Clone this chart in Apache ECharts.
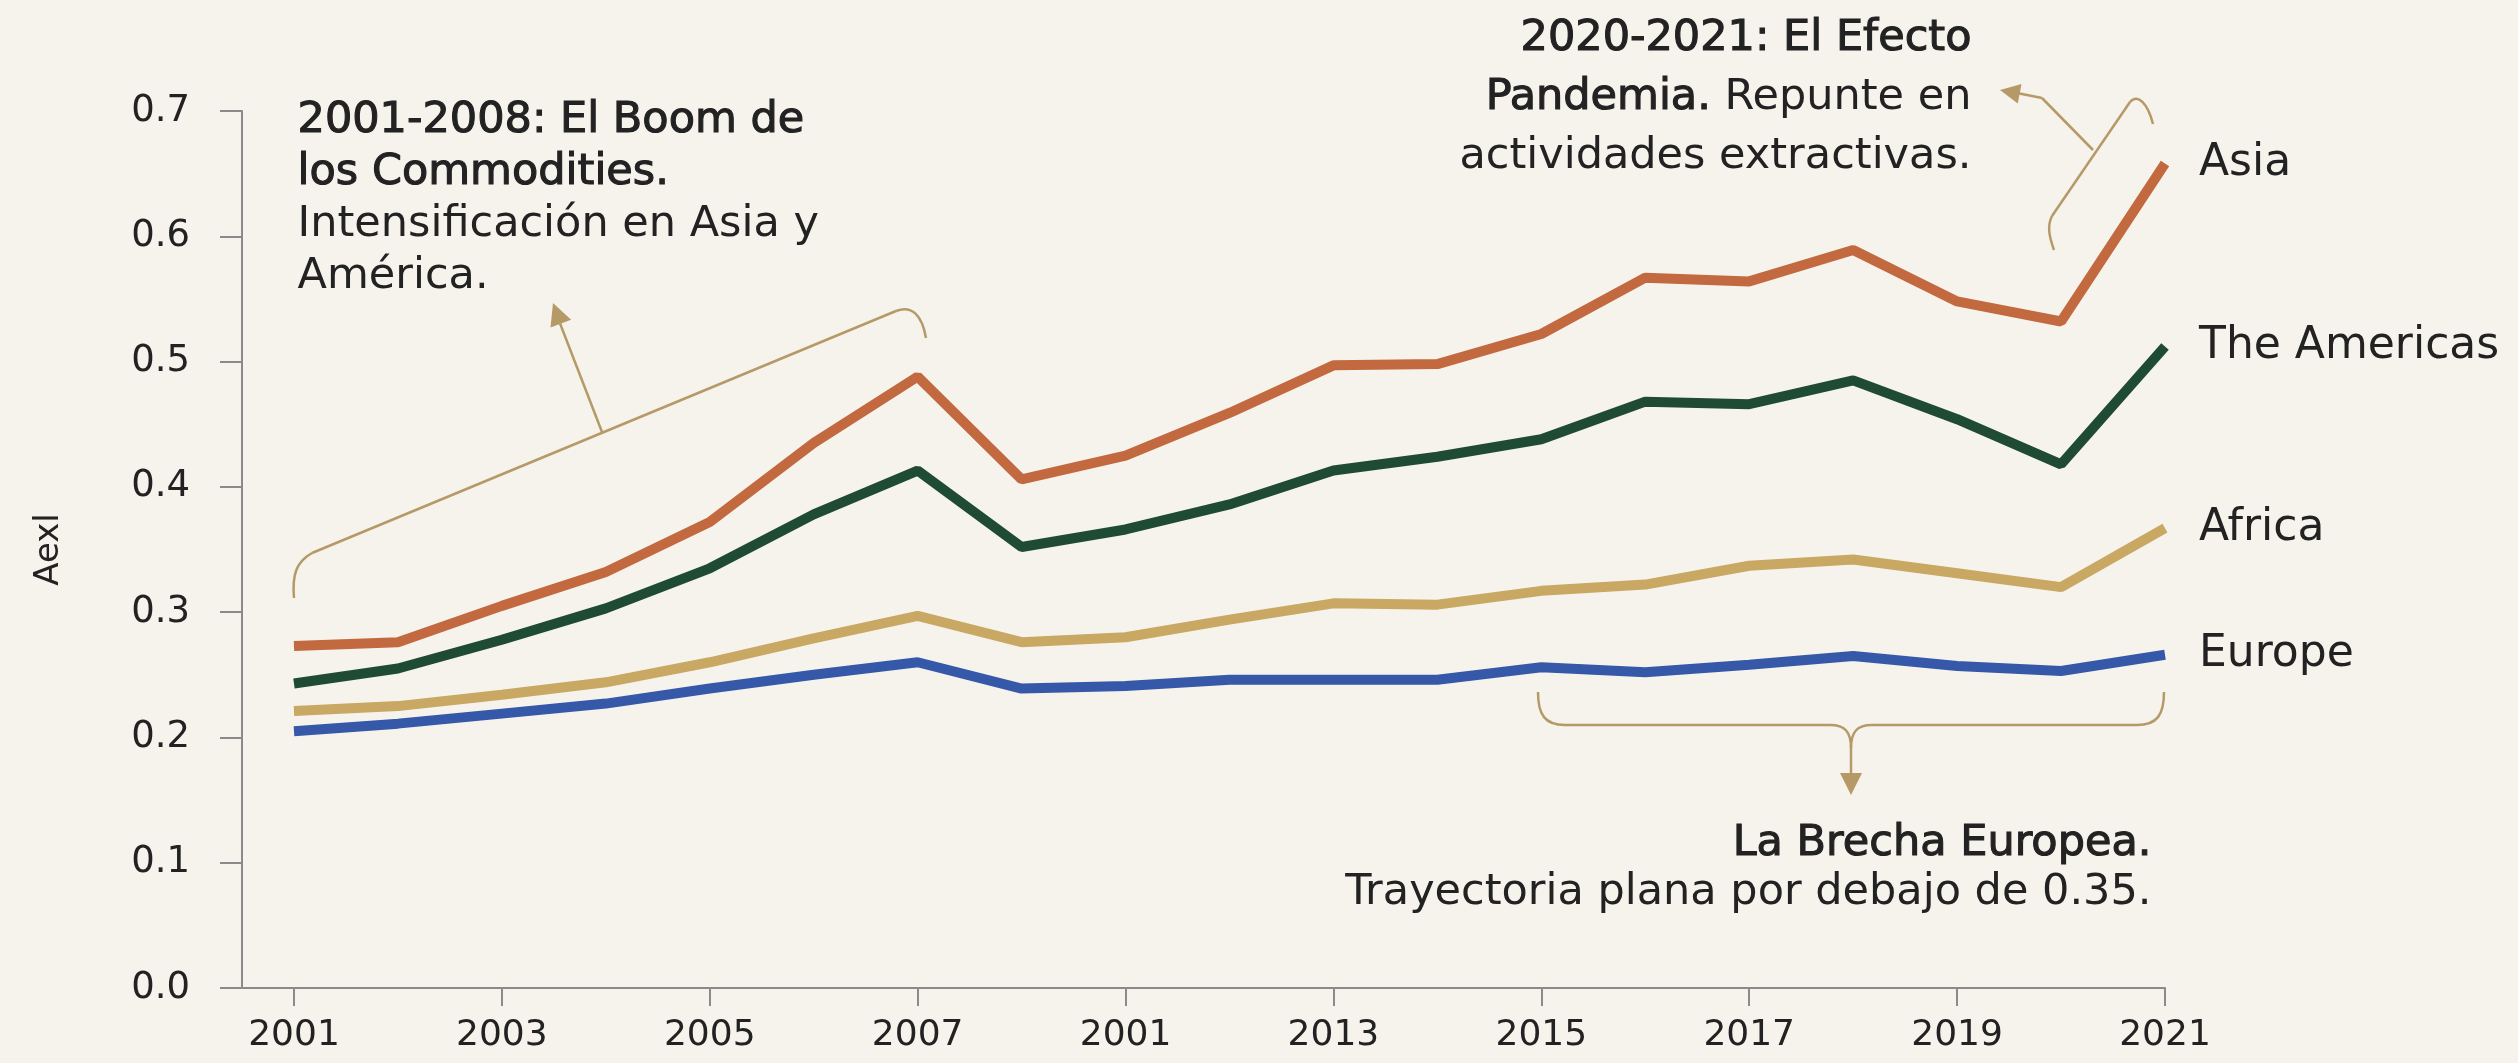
<!DOCTYPE html>
<html>
<head>
<meta charset="utf-8">
<script src="https://cdn.jsdelivr.net/npm/echarts@6/dist/echarts.min.js"></script>
<style>
  html, body { margin: 0; padding: 0; background: #f6f3ed; }
  #chart { width: 2518px; height: 1063px; }
</style>
</head>
<body>
<div id="chart"></div>
<script>
// tick labels as printed on the x axis (one every other point)
const xTickLabels = ['2001', '2003', '2005', '2007', '2001', '2013', '2015', '2017', '2019', '2021'];
const xTickIndex = [0, 2, 4, 6, 8, 10, 12, 14, 16, 18];

const asia     = [0.273, 0.276, 0.305, 0.332, 0.372, 0.435, 0.488, 0.406, 0.425, 0.459, 0.497, 0.498, 0.522, 0.567, 0.564, 0.589, 0.548, 0.532, 0.658];
const americas = [0.243, 0.255, 0.278, 0.303, 0.335, 0.378, 0.413, 0.352, 0.366, 0.386, 0.413, 0.424, 0.438, 0.468, 0.466, 0.485, 0.454, 0.418, 0.512];
const africa   = [0.221, 0.225, 0.234, 0.244, 0.260, 0.279, 0.297, 0.276, 0.280, 0.294, 0.307, 0.306, 0.317, 0.322, 0.337, 0.342, 0.331, 0.320, 0.367];
const europe   = [0.205, 0.211, 0.219, 0.227, 0.239, 0.250, 0.260, 0.239, 0.241, 0.246, 0.246, 0.246, 0.256, 0.252, 0.258, 0.265, 0.257, 0.253, 0.266];

const seriesNames = ['Asia', 'The Americas', 'Africa', 'Europe'];
const seriesValues = [asia, americas, africa, europe];
const seriesColors = ['#c2693f', '#1f4a33', '#c8a862', '#3658a8'];

const FONT = 'DejaVu Sans';
const INK = '#222222';
const NOTE = '#b59a68';

const chart = echarts.init(document.getElementById('chart'));

function arrowHead(from, to, size) {
  const dx = to[0] - from[0], dy = to[1] - from[1];
  const len = Math.sqrt(dx * dx + dy * dy);
  const ux = dx / len, uy = dy / len;
  const bx = to[0] - ux * size, by = to[1] - uy * size;
  const px = -uy * size * 0.5, py = ux * size * 0.5;
  return {
    type: 'polygon',
    shape: { points: [to, [bx + px, by + py], [bx - px, by - py]] },
    style: { fill: NOTE }
  };
}

const noteLine = { stroke: NOTE, lineWidth: 2.5, fill: null };

function seg(x1, y1, x2, y2) {
  return { type: 'line', shape: { x1: x1, y1: y1, x2: x2, y2: y2 }, style: noteLine };
}
function curve(x1, y1, c1x, c1y, c2x, c2y, x2, y2) {
  return {
    type: 'bezierCurve',
    shape: { x1: x1, y1: y1, cpx1: c1x, cpy1: c1y, cpx2: c2x, cpy2: c2y, x2: x2, y2: y2 },
    style: noteLine
  };
}

// "medium" weight imitated with a thin stroke of the text colour
function richSet(lineHeight, align) {
  return {
    b: { fontFamily: FONT, fontSize: 43, fill: INK, lineHeight: lineHeight, align: align,
         stroke: INK, lineWidth: 1.1 },
    r: { fontFamily: FONT, fontSize: 43, fill: INK, lineHeight: lineHeight, align: align }
  };
}

const graphics = [
  // 2001-2008 bracket and arrow
  curve(294, 598, 292, 575, 296, 562, 312, 553),
  seg(312, 553, 896, 311),
  curve(896, 311, 912, 305, 922, 315, 926, 338),
  seg(602, 432, 556, 313),
  arrowHead([602, 432], [553, 303], 22),
  {
    type: 'text', left: 297, top: 99,
    style: {
      text: '{b|2001-2008: El Boom de}\n{b|los Commodities.}\n{r|Intensificación en Asia y}\n{r|América.}',
      rich: richSet(52, 'left')
    }
  },
  // 2020-2021 bracket and arrow
  curve(2054, 250, 2049, 236, 2047, 226, 2052, 216),
  seg(2052, 216, 2130, 102),
  curve(2130, 102, 2138, 93, 2148, 104, 2153, 124),
  seg(2093, 150, 2042, 98),
  seg(2042, 98, 2012, 92),
  arrowHead([2042, 98], [2000, 90], 20),
  {
    type: 'text', right: 2518 - 1972, top: 17,
    style: {
      text: '{b|2020-2021: El Efecto}\n{b|Pandemia.}{r| Repunte en}\n{r|actividades extractivas.}',
      align: 'right',
      rich: richSet(59, 'right')
    }
  },
  // European gap brace and arrow
  curve(1538, 692, 1538, 715, 1545, 725, 1565, 725),
  seg(1565, 725, 1830, 725),
  curve(1830, 725, 1845, 725, 1851, 732, 1851, 748),
  curve(2164, 692, 2164, 715, 2157, 725, 2137, 725),
  seg(2137, 725, 1872, 725),
  curve(1872, 725, 1857, 725, 1851, 732, 1851, 748),
  seg(1851, 748, 1851, 778),
  arrowHead([1851, 748], [1851, 795], 22),
  {
    type: 'text', right: 2518 - 2152, top: 822,
    style: {
      text: '{b|La Brecha Europea.}\n{r|Trayectoria plana por debajo de 0.35.}',
      align: 'right',
      rich: richSet(49, 'right')
    }
  }
];

chart.setOption({
  backgroundColor: '#f6f3ed',
  animation: false,
  grid: { left: 242, right: 353, top: 111, bottom: 75 },
  xAxis: {
    type: 'value',
    min: -0.5,
    max: 18,
    axisLine: { onZero: false, lineStyle: { color: '#8a8a8a', width: 2 } },
    axisTick: { show: true, customValues: xTickIndex, length: 18, lineStyle: { color: '#8a8a8a', width: 2 } },
    axisLabel: {
      customValues: xTickIndex,
      formatter: function (v) { return xTickLabels[xTickIndex.indexOf(Math.round(v))]; },
      margin: 30, fontFamily: FONT, fontSize: 36, color: INK
    },
    splitLine: { show: false }
  },
  yAxis: {
    type: 'value',
    min: 0,
    max: 0.7,
    interval: 0.1,
    name: 'Aexl',
    nameLocation: 'middle',
    nameGap: 176,
    nameTextStyle: { fontFamily: FONT, fontSize: 34, color: INK },
    axisLine: { show: true, onZero: false, lineStyle: { color: '#8a8a8a', width: 2 } },
    axisTick: { show: true, length: 22, lineStyle: { color: '#8a8a8a', width: 2 } },
    axisLabel: {
      formatter: function (v) { return v.toFixed(1); },
      margin: 52, fontFamily: FONT, fontSize: 37, color: INK
    },
    splitLine: { show: false }
  },
  series: seriesNames.map(function (name, k) {
    return {
      name: name,
      type: 'line',
      data: seriesValues[k].map(function (v, i) { return [i, v]; }),
      showSymbol: false,
      lineStyle: { color: seriesColors[k], width: 10 },
      itemStyle: { color: seriesColors[k] },
      endLabel: {
        show: true,
        formatter: '{a}',
        distance: 34,
        fontFamily: FONT,
        fontSize: 44,
        color: INK
      }
    };
  }),
  graphic: graphics
});
</script>
</body>
</html>
